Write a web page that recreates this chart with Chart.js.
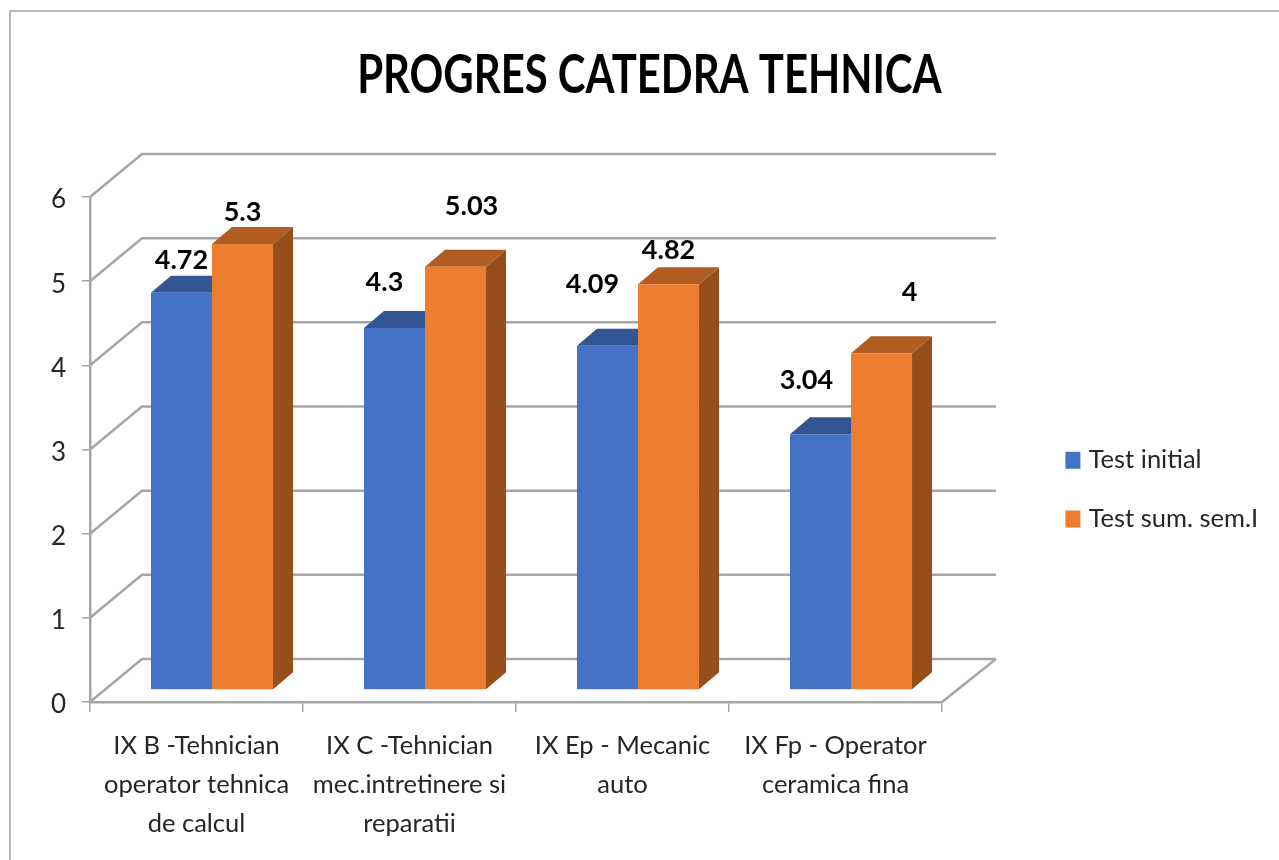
<!DOCTYPE html>
<html><head><meta charset="utf-8">
<style>html,body{margin:0;padding:0;background:#fff}canvas{display:block;filter:blur(0.4px)}</style>
<script src="https://cdn.jsdelivr.net/npm/chart.js@4/dist/chart.umd.min.js"></script>
</head><body><div style="width:1279px;height:860px"><canvas id="c" width="1279" height="860"></canvas></div>
<script>
const titleText = 'PROGRES CATEDRA TEHNICA';
const categories = [
  ['IX B -Tehnician','operator tehnica','de calcul'],
  ['IX C -Tehnician','mec.intretinere si','reparatii'],
  ['IX Ep - Mecanic','auto'],
  ['IX Fp - Operator','ceramica fina']
];
const seriesNames = ['Test initial','Test sum. sem.I'];
const testInitial = [4.72, 4.3, 4.09, 3.04];
const testSum = [5.3, 5.03, 4.82, 4];
const yTicks = [0,1,2,3,4,5,6];

const FONT = 'Lato,sans-serif';
const TXT = '#262626', GRID = '#A6A6A6';
const SHIFT = {x:15.5, y:-12}, DEPTH = {x:20, y:-17}, WALL = {x:52, y:-43};
const TITLE_SQUEEZE = 0.775;
const faces = [{top:'#335593'},{top:'#B15C20', side:'#964F1B'}];
const nudges = [
  [[0,-32],[-10,-46],[-15,-61],[-14,-54]],
  [[0,-32],[16,-60],[0,-34],[28,-61]]
];
function poly(ctx,pts,fill){ctx.beginPath();pts.forEach((p,i)=>i?ctx.lineTo(p[0],p[1]):ctx.moveTo(p[0],p[1]));ctx.closePath();ctx.fillStyle=fill;ctx.fill();}

const scene = {
  id:'scene',
  afterLayout(chart){
    const l = chart.legend;
    l.left = 1036.5; l.right = l.left + l.width;
    l.top = 414; l.bottom = l.top + l.height;
    const t = chart.titleBlock;
    t.left = 10; t.right = 1289;
    if (!t._squeezed) {
      const base = t.draw;
      t.draw = function(){
        const c = this.ctx, cx = 649;
        c.save(); c.translate(cx,0); c.scale(TITLE_SQUEEZE,1); c.translate(-cx,0);
        base.call(this);
        c.restore();
      };
      t._squeezed = true;
    }
  },
  beforeDraw(chart){
    const c = chart.ctx;
    c.save(); c.strokeStyle = '#A0A0A0'; c.lineWidth = 1.5;
    c.beginPath(); c.moveTo(10,860); c.lineTo(10,11); c.lineTo(1279,11); c.stroke();
    c.restore();
  },
  beforeDatasetsDraw(chart){
    const c = chart.ctx, ys = chart.scales.y, xs = chart.scales.x;
    c.save();
    c.strokeStyle = GRID; c.lineWidth = 2.5; c.lineJoin = 'miter';
    yTicks.forEach(v=>{
      const y = ys.getPixelForValue(v), x0 = xs.left;
      c.beginPath(); c.moveTo(x0,y); c.lineTo(x0+WALL.x,y+WALL.y); c.lineTo(xs.right+WALL.x+2,y+WALL.y); c.stroke();
    });
    const b = ys.getPixelForValue(0);
    c.beginPath(); c.moveTo(xs.right,b); c.lineTo(xs.right+WALL.x+2,b+WALL.y); c.stroke();
    c.translate(SHIFT.x,SHIFT.y);
    chart.data.datasets.forEach((d,i)=>{
      chart.getDatasetMeta(i).data.forEach(el=>{
        const L = el.x-el.width/2, R = el.x+el.width/2;
        poly(c,[[L,el.y],[R,el.y],[R+DEPTH.x,el.y+DEPTH.y],[L+DEPTH.x,el.y+DEPTH.y]],faces[i].top);
        if (faces[i].side) poly(c,[[R,el.y],[R+DEPTH.x,el.y+DEPTH.y],[R+DEPTH.x,el.base+DEPTH.y],[R,el.base]],faces[i].side);
      });
    });
    c.restore();
  },
  beforeDatasetDraw(chart){ const c=chart.ctx; c.save(); c.translate(SHIFT.x,SHIFT.y); },
  afterDatasetDraw(chart){ chart.ctx.restore(); },
  afterDatasetsDraw(chart){
    const c = chart.ctx;
    c.save();
    c.font = 'bold 27px '+FONT; c.fillStyle = '#000'; c.textAlign='center'; c.textBaseline='middle';
    chart.data.datasets.forEach((d,i)=>{
      chart.getDatasetMeta(i).data.forEach((el,j)=>{
        c.fillText(String(d.data[j]), el.x+SHIFT.x+nudges[i][j][0], el.y+SHIFT.y+nudges[i][j][1]);
      });
    });
    c.restore();
  }
};

new Chart(document.getElementById('c'),{
  type:'bar',
  data:{labels:categories,datasets:[
    {label:seriesNames[0],data:testInitial,backgroundColor:'#4472C4',clip:false},
    {label:seriesNames[1],data:testSum,backgroundColor:'#ED7D31',clip:false}
  ]},
  plugins:[scene],
  options:{
    responsive:false,animation:false,
    categoryPercentage:0.573,barPercentage:1,
    layout:{padding:{left:0,right:337,top:43,bottom:0}},
    plugins:{
      tooltip:{enabled:false},
      title:{display:true,text:titleText,color:'#000',font:{family:FONT,size:54,weight:'bold',lineHeight:1.2},padding:{top:0,bottom:89.2}},
      legend:{position:'chartArea',align:'start',labels:{
        color:TXT,font:{family:FONT,size:25.5},boxWidth:6,boxHeight:8,padding:33.4,
        generateLabels(chart){
          const items = Chart.defaults.plugins.legend.labels.generateLabels(chart);
          items.forEach(i=>{i.lineWidth=9;i.strokeStyle=i.fillStyle;});
          return items;
        }
      }}
    },
    scales:{
      x:{
        afterFit(s){s.height=158;},
        grid:{drawOnChartArea:false,color:GRID,tickLength:10,lineWidth:1.5},
        border:{color:GRID,width:2.5},
        ticks:{color:TXT,font:{family:FONT,size:25.5,lineHeight:'39px'},padding:14,maxRotation:0,autoSkip:false}
      },
      y:{
        min:0,max:6,
        afterFit(s){s.width=90;},
        afterBuildTicks(s){s.ticks=yTicks.map(v=>({value:v}));},
        grid:{drawOnChartArea:false,color:GRID,tickLength:8,lineWidth:1.5},
        border:{color:GRID,width:2.5},
        ticks:{color:TXT,font:{family:FONT,size:26},padding:16,labelOffset:3}
      }
    }
  }
});
</script></body></html>
